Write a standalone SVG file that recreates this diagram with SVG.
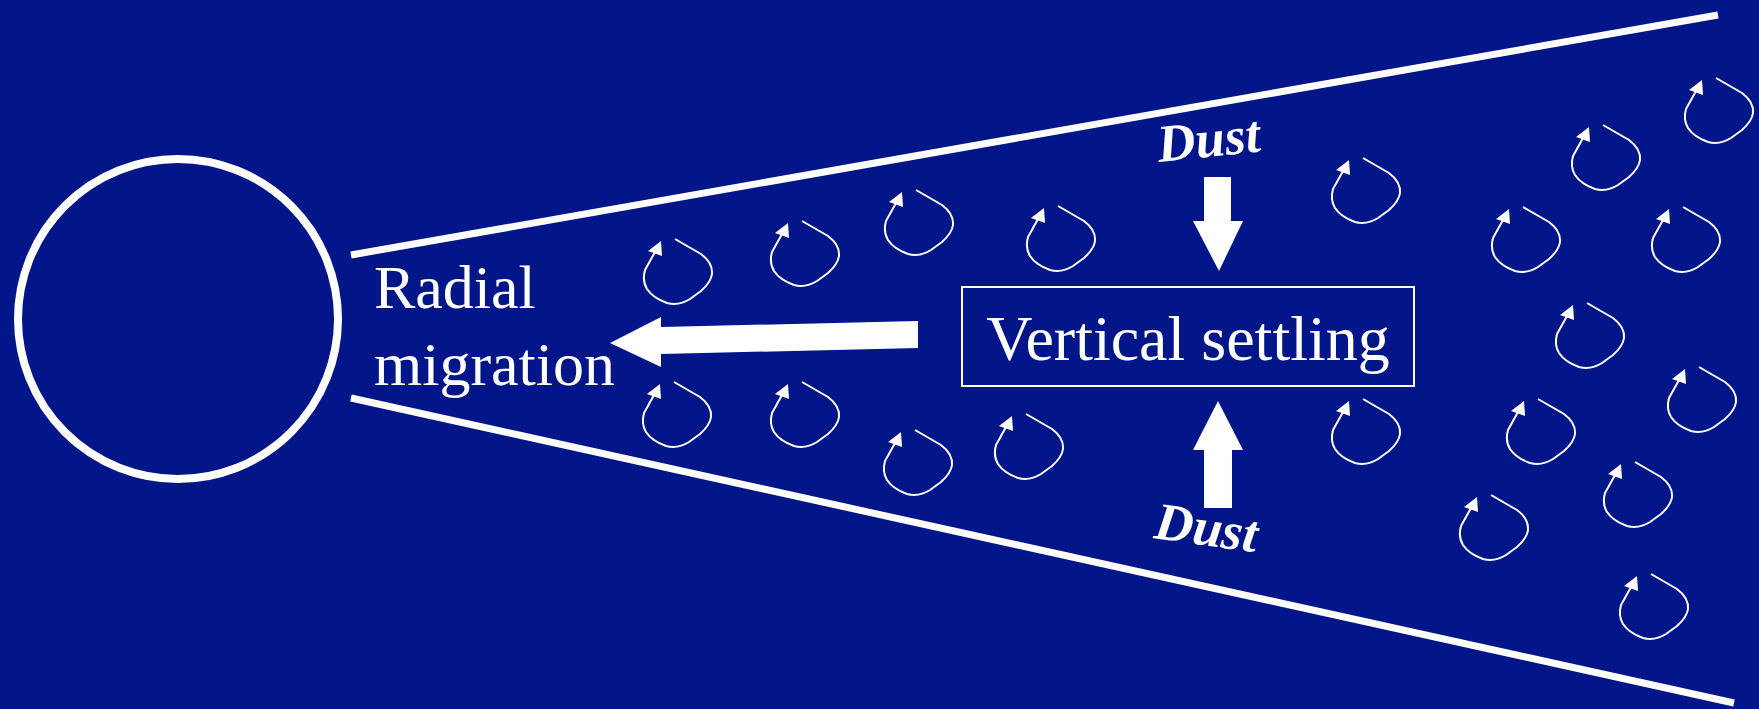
<svg xmlns="http://www.w3.org/2000/svg" xmlns:xlink="http://www.w3.org/1999/xlink" width="1759" height="709" viewBox="0 0 1759 709">
  <style>
    .bg { fill: #021689; }
    .edge { stroke: #ffffff; stroke-width: 7; fill: none; }
    .loop { stroke: #ffffff; stroke-width: 2; fill: none; stroke-linejoin: round; }
    .solid { fill: #ffffff; }
    .label { fill: #ffffff; font-family: "Liberation Serif", "Times New Roman", serif; }
    .dust { fill: #ffffff; font-family: "Liberation Serif", "Times New Roman", serif; font-weight: bold; font-style: italic; font-size: 53px; }
  </style>
  <defs>
    <!-- small turbulent eddy: open loop ending in an arrowhead; origin at the arrow tip -->
    <g id="eddy">
      <path class="loop" d="M14,-2 L40,13 Q52,22 51,33 Q50,41 40,50 L29,58 Q18,65 6,62 Q-8,57 -14,48 Q-19,40 -16,29 L-6,11"/>
      <polygon class="solid" points="0,0 -13,10 1,15"/>
    </g>
  </defs>

  <rect class="bg" x="0" y="0" width="1759" height="709"/>

  <!-- central star -->
  <g id="star">
    <circle cx="178" cy="319" r="160" fill="none" stroke="#ffffff" stroke-width="8"/>
  </g>

  <!-- flaring disk surfaces -->
  <g id="disk">
    <line class="edge" x1="351" y1="255" x2="1718" y2="15"/>
    <line class="edge" x1="351" y1="398" x2="1734" y2="703"/>
  </g>

  <!-- turbulent eddies -->
  <g id="eddies">
    <use xlink:href="#eddy" href="#eddy" x="661" y="241"/>
    <use xlink:href="#eddy" href="#eddy" x="788" y="223"/>
    <use xlink:href="#eddy" href="#eddy" x="902" y="192"/>
    <use xlink:href="#eddy" href="#eddy" x="1044" y="208"/>
    <use xlink:href="#eddy" href="#eddy" x="1349" y="160"/>
    <use xlink:href="#eddy" href="#eddy" x="1589" y="127"/>
    <use xlink:href="#eddy" href="#eddy" x="1702" y="80"/>
    <use xlink:href="#eddy" href="#eddy" x="1509" y="209"/>
    <use xlink:href="#eddy" href="#eddy" x="1669" y="209"/>
    <use xlink:href="#eddy" href="#eddy" x="1573" y="305"/>
    <use xlink:href="#eddy" href="#eddy" x="1685" y="369"/>
    <use xlink:href="#eddy" href="#eddy" x="660" y="384"/>
    <use xlink:href="#eddy" href="#eddy" x="788" y="384"/>
    <use xlink:href="#eddy" href="#eddy" x="901" y="432"/>
    <use xlink:href="#eddy" href="#eddy" x="1012" y="416"/>
    <use xlink:href="#eddy" href="#eddy" x="1349" y="401"/>
    <use xlink:href="#eddy" href="#eddy" x="1524" y="401"/>
    <use xlink:href="#eddy" href="#eddy" x="1477" y="497"/>
    <use xlink:href="#eddy" href="#eddy" x="1621" y="464"/>
    <use xlink:href="#eddy" href="#eddy" x="1637" y="576"/>
  </g>

  <!-- vertical settling box -->
  <g id="settling">
    <rect x="962" y="287" width="452" height="99" fill="none" stroke="#ffffff" stroke-width="2"/>
    <text class="label" x="1188" y="360" font-size="64" text-anchor="middle">Vertical settling</text>
  </g>

  <!-- radial migration label -->
  <g id="radial-label">
    <text class="label" x="374" y="308" font-size="62">Radial</text>
    <text class="label" x="374" y="385" font-size="62">migration</text>
  </g>

  <!-- dust labels -->
  <g id="dust-top">
    <text class="dust" x="1159" y="162" transform="rotate(-6 1159 162)">Dust</text>
  </g>
  <g id="dust-bottom">
    <text class="dust" x="1153" y="538" transform="rotate(8 1153 538)">Dust</text>
  </g>

  <!-- block arrows -->
  <g id="connectors">
    <polygon class="solid" points="918,321 918,348 661,354 661,367 610,343 661,317 661,327"/>
    <polygon class="solid" points="1204,177 1231,177 1231,221 1243,221 1219,271 1193,221 1204,221"/>
    <polygon class="solid" points="1218,401 1243,450 1232,450 1232,508 1204,508 1204,450 1193,450"/>
  </g>
</svg>
